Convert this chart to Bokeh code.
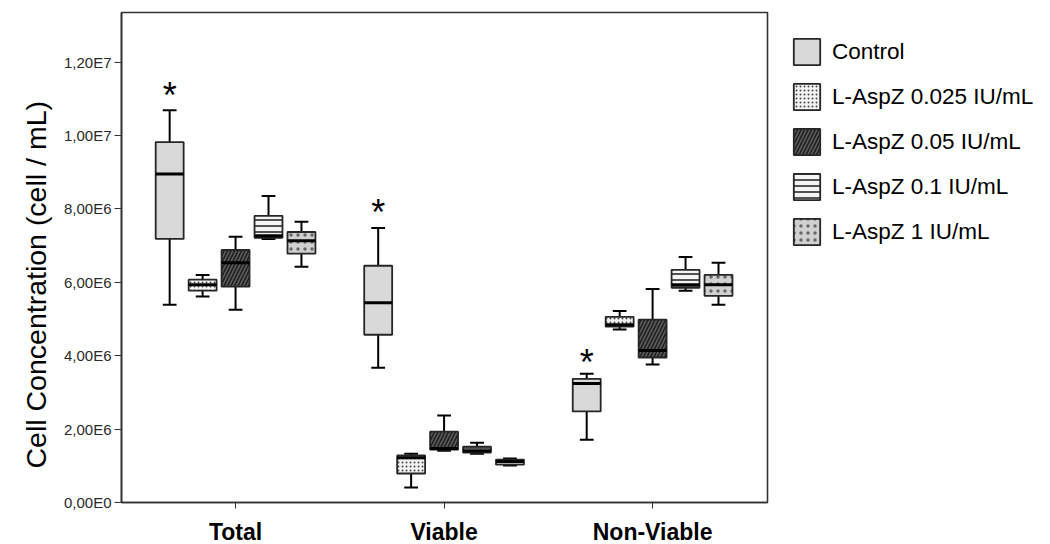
from bokeh.plotting import figure
from bokeh.models import (ColumnDataSource, Legend, LegendItem, FixedTicker, Range1d, Title)
from bokeh.embed import file_html
from bokeh.resources import INLINE
from bokeh.core.properties import value

# ---------------- data ----------------
categories = ["Total", "Viable", "Non-Viable"]
series = ["Control", "L-AspZ 0.025 IU/mL", "L-AspZ 0.05 IU/mL",
          "L-AspZ 0.1 IU/mL", "L-AspZ 1 IU/mL"]

# each row = one series; columns = Total, Viable, Non-Viable
mins = [[5.39e6, 3.67e6, 1.71e6],
        [5.61e6, 0.41e6, 4.71e6],
        [5.25e6, 1.41e6, 3.76e6],
        [7.18e6, 1.33e6, 5.77e6],
        [6.42e6, 1.01e6, 5.39e6]]
q1s = [[7.18e6, 4.57e6, 2.48e6],
       [5.77e6, 0.79e6, 4.79e6],
       [5.88e6, 1.44e6, 3.95e6],
       [7.21e6, 1.36e6, 5.85e6],
       [6.78e6, 1.03e6, 5.63e6]]
meds = [[8.95e6, 5.44e6, 3.24e6],
        [5.93e6, 1.22e6, 4.84e6],
        [6.53e6, 1.47e6, 4.14e6],
        [7.27e6, 1.41e6, 5.93e6],
        [7.13e6, 1.12e6, 5.93e6]]
q3s = [[9.82e6, 6.45e6, 3.37e6],
       [6.07e6, 1.28e6, 5.06e6],
       [6.88e6, 1.93e6, 4.98e6],
       [7.81e6, 1.52e6, 6.34e6],
       [7.37e6, 1.17e6, 6.20e6]]
maxs = [[10.69e6, 7.48e6, 3.51e6],
        [6.20e6, 1.33e6, 5.22e6],
        [7.24e6, 2.37e6, 5.82e6],
        [8.35e6, 1.63e6, 6.69e6],
        [7.65e6, 1.20e6, 6.53e6]]

# significance marks (*) above the Control boxes
star_y = [11.2e6, 8.0e6, 3.92e6]

ytick_values = [0, 2e6, 4e6, 6e6, 8e6, 10e6, 12e6]
ytick_labels = ["0,00E0", "2,00E6", "4,00E6", "6,00E6", "8,00E6", "1,00E7", "1,20E7"]
y_title = "Cell Concentration (cell / mL)"

# ---------------- styles ----------------
styles = [
    dict(fill_color="#d9d9d9"),
    dict(fill_color="#f4f4f4", hatch_pattern=".", hatch_color="#4a4a4a", hatch_scale=4, hatch_weight=1.1),
    dict(fill_color="#5c5c5c", hatch_pattern="/", hatch_color="#1e1e1e", hatch_scale=7, hatch_weight=1.6),
    dict(fill_color="#f4f4f4", hatch_pattern="-", hatch_color="#404040", hatch_scale=6, hatch_weight=1.8),
    dict(fill_color="#d0d0d0", hatch_pattern=".", hatch_color="#666666", hatch_scale=7, hatch_weight=1.5),
]

FONT = "Liberation Sans"
X0, X1 = 0.453, 3.551
Y0, Y1 = 0, 13.35e6

p = figure(frame_width=646, frame_height=490,
           x_range=Range1d(X0, X1), y_range=Range1d(Y0, Y1),
           output_backend="svg", toolbar_location=None,
           min_border_left=121, min_border_top=12, min_border_bottom=42,
           min_border_right=283,
           background_fill_color="white", border_fill_color="white")

p.xgrid.visible = False
p.ygrid.visible = False
p.outline_line_color = "#333333"
p.outline_line_width = 1.6

step = 0.158
bw = 0.134
cap = 0.066

renderers = []
for i, name in enumerate(series):
    xs = [g + 1 + (i - 2) * step for g in range(len(categories))]
    src = ColumnDataSource(dict(
        x=xs,
        xl=[x - bw / 2 for x in xs], xr=[x + bw / 2 for x in xs],
        cl=[x - cap / 2 for x in xs], cr=[x + cap / 2 for x in xs],
        lo=mins[i], q1=q1s[i], med=meds[i], q3=q3s[i], hi=maxs[i]))
    p.segment(x0="x", y0="q3", x1="x", y1="hi", source=src, line_color="black", line_width=2)
    p.segment(x0="x", y0="q1", x1="x", y1="lo", source=src, line_color="black", line_width=2)
    p.segment(x0="cl", y0="hi", x1="cr", y1="hi", source=src, line_color="black", line_width=2)
    p.segment(x0="cl", y0="lo", x1="cr", y1="lo", source=src, line_color="black", line_width=2)
    r = p.vbar(x="x", width=bw, top="q3", bottom="q1", source=src,
               line_color="#262626", line_width=1.8, **styles[i])
    renderers.append(r)
    p.segment(x0="xl", y0="med", x1="xr", y1="med", source=src, line_color="black", line_width=3)

# asterisks above Control
star_x = [g + 1 - 2 * step for g in range(len(categories))]
p.text(x=star_x, y=star_y, text=["*"] * 3, text_align="center", text_baseline="middle",
       text_font=value(FONT), text_font_size="36px", text_color="black", y_offset=4)

# axes
p.xaxis.ticker = FixedTicker(ticks=[1, 2, 3])
p.xaxis.major_label_overrides = {i + 1: c for i, c in enumerate(categories)}
p.xaxis.major_label_text_font = FONT
p.xaxis.major_label_text_font_style = "bold"
p.xaxis.major_label_text_font_size = "23px"
p.xaxis.major_label_text_color = "black"
p.xaxis.major_label_standoff = 10
p.xaxis.minor_tick_line_color = None
p.xaxis.major_tick_in = 0
p.xaxis.major_tick_out = 6
p.xaxis.axis_line_color = "#333333"
p.xaxis.axis_line_width = 1.6
p.xaxis.major_tick_line_color = "#333333"

p.yaxis.ticker = FixedTicker(ticks=ytick_values)
p.yaxis.major_label_overrides = {v: l for v, l in zip(ytick_values, ytick_labels)}
p.yaxis.major_label_text_font = FONT
p.yaxis.major_label_text_font_size = "15px"
p.yaxis.major_label_text_color = "#2a2a2a"
p.yaxis.major_label_standoff = 3
p.yaxis.minor_tick_line_color = None
p.yaxis.major_tick_in = 0
p.yaxis.major_tick_out = 7
p.yaxis.axis_line_color = "#333333"
p.yaxis.axis_line_width = 1.6
p.yaxis.major_tick_line_color = "#333333"

# y title as a side title, starting a little above the frame bottom (as in the original)
ytitle = Title(text=y_title, align="left", offset=34, text_font=FONT,
               text_font_style="normal", text_font_size="28.5px", text_color="black",
               standoff=17)
p.add_layout(ytitle, "left")

legend = Legend(items=[LegendItem(label=n, renderers=[r]) for n, r in zip(series, renderers)],
                location="top_left", glyph_width=33, glyph_height=33, label_height=33,
                spacing=12, label_text_font=FONT, label_text_font_size="22.5px",
                label_text_color="black", border_line_color=None,
                background_fill_alpha=0, margin=23, padding=10, label_standoff=9)
p.add_layout(legend, "right")

open("out.html", "w").write(file_html(p, INLINE))
